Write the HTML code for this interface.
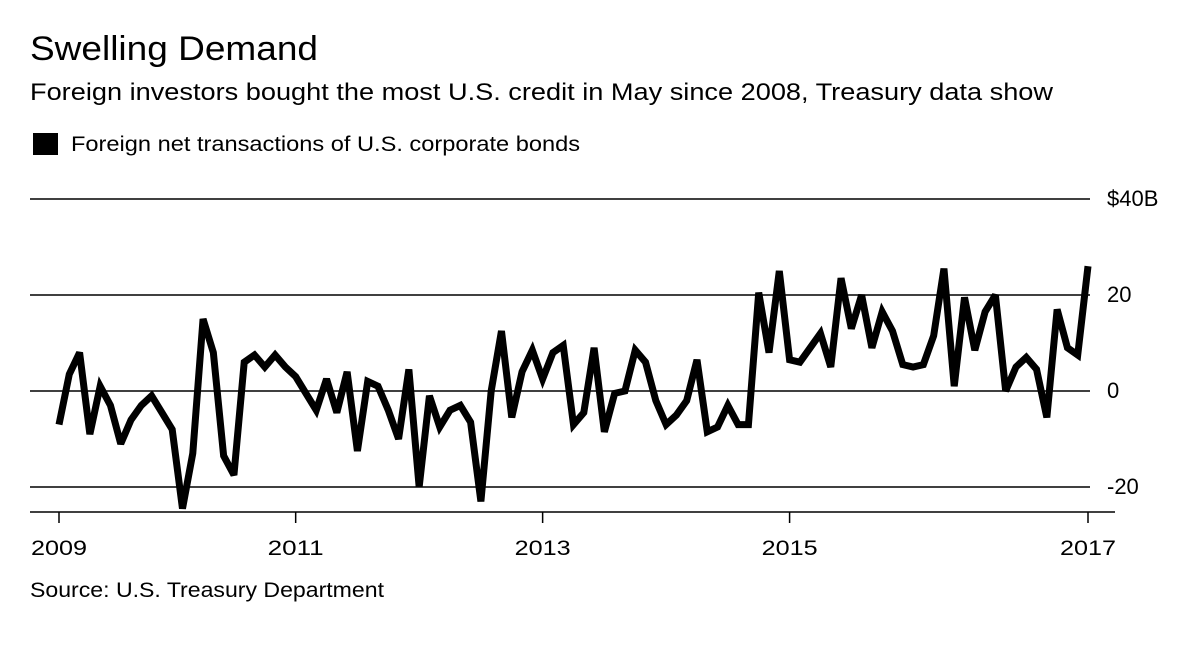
<!DOCTYPE html>
<html><head><meta charset="utf-8"><style>
body{margin:0;background:#fff;font-family:"Liberation Sans",sans-serif;color:#000}
</style></head><body>
<svg width="1200" height="648" xmlns="http://www.w3.org/2000/svg" id="chart" font-family="Liberation Sans, sans-serif">
<text x="30" y="60" font-size="34" textLength="288" lengthAdjust="spacingAndGlyphs">Swelling Demand</text>
<text x="30" y="100" font-size="24" textLength="1023" lengthAdjust="spacingAndGlyphs">Foreign investors bought the most U.S. credit in May since 2008, Treasury data show</text>
<rect x="33" y="133" width="25" height="22" fill="#000"/>
<text x="71" y="151" font-size="21" textLength="509" lengthAdjust="spacingAndGlyphs">Foreign net transactions of U.S. corporate bonds</text>
<g id="grid"></g><g id="axis"></g><g id="series"></g>
<text x="30" y="597" font-size="21" textLength="354" lengthAdjust="spacingAndGlyphs">Source: U.S. Treasury Department</text>
</svg>
<script>
const values=[-7,3.5,8,-9,1,-3,-11,-6,-3,-1,-4.5,-8,-24.5,-13,15,8,-13.5,-17.5,6,7.5,5,7.5,5,3,-0.5,-4,2.5,-4.5,4,-12.5,2,1,-4,-10,4.5,-20,-1,-7.5,-4,-3,-6.5,-23,0,12.5,-5.5,4,8.5,2.5,8,9.5,-7,-4.5,9,-8.5,-0.5,0,8.5,6,-2,-7,-5,-2,6.5,-8.5,-7.5,-3,-7,-7,20.5,8,25,6.5,6,9,12,5,23.5,13,20,9,16.5,12.5,5.5,5,5.5,11.5,25.5,1,19.5,8.5,16.5,20,0,5,7,4.5,-5.5,17,9,7.5,26];
const yTicks=[40,20,0,-20];
const yTickLabels=["$40B","20","0","-20"];
const xTickIdx=[0,23,47,71,100];
const xTickLabels=["2009","2011","2013","2015","2017"];
const NS="http://www.w3.org/2000/svg";
function x(i){return 59+i*(1088-59)/(values.length-1);}
function y(v){return 391-v*4.8;}
function mk(t,a,p){const e=document.createElementNS(NS,t);for(const k in a)e.setAttribute(k,a[k]);p.appendChild(e);return e;}
const grid=document.getElementById('grid'),axis=document.getElementById('axis'),series=document.getElementById('series');
yTicks.forEach((v,i)=>{
 const l=mk('line',{x1:30,x2:1090,y1:y(v),y2:y(v),stroke:'#000','stroke-width':1.5},grid);
 
 
 const t=mk('text',{x:1107,y:y(v)+7,'font-size':22},grid);t.textContent=yTickLabels[i];
 
 
});
const base=mk('line',{x1:30,x2:1115,y1:512,y2:512,stroke:'#000','stroke-width':1.5},axis);


xTickIdx.forEach((idx,i)=>{
 const l=mk('line',{x1:x(idx),x2:x(idx),y1:512,y2:523,stroke:'#000','stroke-width':1.5},axis);
 
 
 const t=mk('text',{x:x(idx),y:555,'font-size':21,'text-anchor':'middle',textLength:56,lengthAdjust:'spacingAndGlyphs'},axis);t.textContent=xTickLabels[i];
 
 
});
const p=mk('polyline',{points:values.map((v,i)=>x(i)+','+y(v)).join(' '),fill:'none',stroke:'#000','stroke-width':7,'stroke-linejoin':'miter','stroke-miterlimit':3},series);


</script>
</body></html>
